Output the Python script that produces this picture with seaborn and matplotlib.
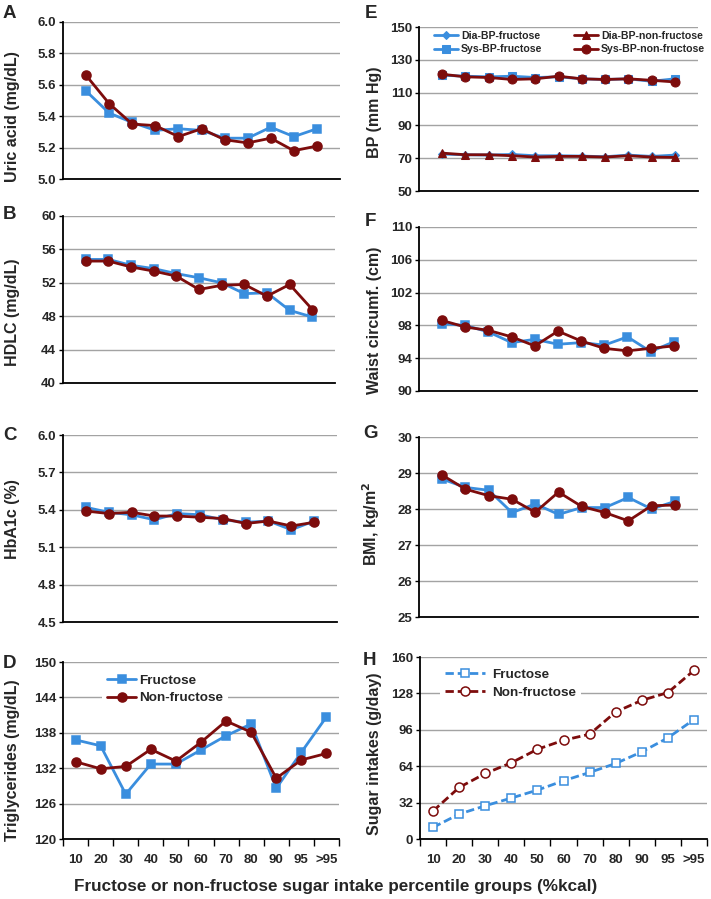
import numpy as np
import seaborn as sns
import matplotlib.pyplot as plt

# percentile groups on the shared x axis
groups = ['10', '20', '30', '40', '50', '60', '70', '80', '90', '95', '>95']

uric_fru = [5.56, 5.42, 5.36, 5.31, 5.32, 5.31, 5.26, 5.26, 5.33, 5.27, 5.32]
uric_non = [5.66, 5.48, 5.35, 5.34, 5.27, 5.32, 5.25, 5.23, 5.26, 5.18, 5.21]
hdlc_fru = [54.8, 54.8, 54.1, 53.7, 53.1, 52.6, 52.0, 50.7, 50.8, 48.7, 47.9]
hdlc_non = [54.6, 54.6, 53.9, 53.4, 52.8, 51.2, 51.7, 51.8, 50.4, 51.8, 48.8]
hba1c_fru = [5.42, 5.38, 5.36, 5.32, 5.37, 5.36, 5.32, 5.30, 5.31, 5.24, 5.31]
hba1c_non = [5.39, 5.37, 5.38, 5.35, 5.35, 5.34, 5.33, 5.29, 5.31, 5.27, 5.30]
tg_fru = [136.8, 135.8, 127.6, 132.7, 132.7, 135.1, 137.5, 139.5, 128.6, 134.7, 140.7]
tg_non = [133.1, 131.9, 132.3, 135.2, 133.2, 136.4, 140.0, 138.1, 130.3, 133.4, 134.5]
dia_fru = [72.5, 72.1, 71.9, 72.3, 71.5, 71.5, 71.3, 70.9, 71.9, 71.1, 71.9]
dia_non = [73.1, 72.1, 72.1, 71.5, 70.7, 71.1, 71.1, 70.7, 71.5, 70.7, 70.5]
sys_fru = [120.6, 120.0, 119.6, 120.0, 119.2, 119.6, 118.4, 118.0, 118.4, 116.9, 118.4]
sys_non = [121.2, 119.6, 119.2, 118.0, 118.4, 120.0, 118.4, 118.0, 118.4, 117.5, 116.5]
waist_fru = [98.2, 98.0, 97.2, 95.9, 96.3, 95.7, 95.9, 95.6, 96.6, 94.8, 96.0]
waist_non = [98.6, 97.8, 97.4, 96.6, 95.5, 97.3, 96.1, 95.2, 94.9, 95.2, 95.5]
bmi_fru = [28.83, 28.60, 28.52, 27.90, 28.14, 27.85, 28.04, 28.04, 28.32, 28.00, 28.21]
bmi_non = [28.94, 28.55, 28.37, 28.27, 27.91, 28.47, 28.07, 27.90, 27.67, 28.09, 28.11]
sugar_fru = [10.2, 21.9, 29.2, 36.0, 43.0, 51.2, 58.5, 66.4, 76.6, 88.9, 105.0]
sugar_non = [24.6, 45.3, 57.6, 67.0, 78.9, 86.8, 92.1, 111.7, 121.9, 128.7, 148.2]

BLUE = '#3a8ede'
RED = '#7d0c0c'
W, H = 711, 899

sns.set_style('white')
plt.rcParams['font.family'] = ['Liberation Sans', 'DejaVu Sans']
plt.rcParams['font.weight'] = 'bold'
plt.rcParams['mathtext.default'] = 'bf'

fig = plt.figure(figsize=(W / 100, H / 100), dpi=100)


def box(l, t, r, b):
    return [l / W, 1 - b / H, (r - l) / W, (b - t) / H]


def px(x, y):
    return x / W, 1 - y / H


pos = np.arange(len(groups))


def setup(ax, ylim, step, fmt, ylabel, lab_xy, rect, bottom=False):
    l, t, r, b = rect
    ticks = np.arange(ylim[0], ylim[1] + step / 2, step)
    ax.set_ylim(*ylim)
    ax.set_yticks(ticks)
    ax.set_yticklabels([fmt % v for v in ticks], fontsize=9.5, fontweight='bold')
    ax.yaxis.grid(True, color='#a3a3a3', lw=1)
    ax.set_axisbelow(True)
    for s in ['top', 'right']:
        ax.spines[s].set_visible(False)
    for s in ['left', 'bottom']:
        ax.spines[s].set_color('black')
        ax.spines[s].set_linewidth(1.3)
    ax.tick_params(axis='y', length=3, width=1, color='black', pad=2, left=True)
    if bottom:
        ax.set_xlim(-0.5, len(groups) - 0.5)
        ax.set_xticks(pos)
        ax.set_xticklabels(groups, fontsize=9.5, fontweight='bold')
        ax.set_xticks(np.arange(-0.5, len(groups)), minor=True)
        ax.tick_params(axis='x', which='major', length=0, pad=11)
        ax.tick_params(axis='x', which='minor', length=5, width=1, color='black', bottom=True)
    else:
        ax.set_xlim(-1, len(groups))
        ax.set_xticks([])
    ax.set_xlabel('')
    ax.set_ylabel(ylabel, fontsize=11.5, fontweight='bold')
    lx, ly = lab_xy
    ax.yaxis.set_label_coords((lx - l) / (r - l), (b - ly) / (b - t))


def pair(ax, fru, non, dashed=False, labels=None):
    ls = (0, (3, 1.4)) if dashed else '-'
    fc_b = 'white' if dashed else BLUE
    fc_r = 'white' if dashed else RED
    sns.lineplot(x=pos, y=fru, ax=ax, color=BLUE, lw=2.0, linestyle=ls, marker='s',
                 markersize=6, markerfacecolor=fc_b, markeredgecolor=BLUE, markeredgewidth=1.1,
                 label=labels[0] if labels else None, legend=False)
    sns.lineplot(x=pos, y=non, ax=ax, color=RED, lw=2.0, linestyle=ls, marker='o',
                 markersize=6.5, markerfacecolor=fc_r, markeredgecolor=RED, markeredgewidth=1.1,
                 label=labels[1] if labels else None, legend=False)


# left column
rA = (63, 22, 340, 179)
axA = fig.add_axes(box(*rA))
pair(axA, uric_fru, uric_non)
setup(axA, (5.0, 6.0), 0.2, '%.1f', 'Uric acid (mg/dL)', (20, 117), rA)

rB = (63, 216, 335, 383)
axB = fig.add_axes(box(*rB))
pair(axB, hdlc_fru, hdlc_non)
setup(axB, (40, 60), 4, '%d', 'HDLC (mg/dL)', (20, 312), rB)

rC = (63, 435, 337, 622)
axC = fig.add_axes(box(*rC))
pair(axC, hba1c_fru, hba1c_non)
setup(axC, (4.5, 6.0), 0.3, '%.1f', 'HbA1c (%)', (20, 519), rC)

rD = (63, 662, 339, 839)
axD = fig.add_axes(box(*rD))
pair(axD, tg_fru, tg_non, labels=['Fructose', 'Non-fructose'])
setup(axD, (120, 150), 6, '%d', 'Triglycerides (mg/dL)', (20, 760), rD, bottom=True)
axD.legend(loc='upper left', bbox_to_anchor=px(102, 670), bbox_transform=fig.transFigure,
           borderaxespad=0, borderpad=0.35, frameon=True, facecolor='white', edgecolor='none',
           framealpha=1, fancybox=False, handlelength=2.2, handletextpad=0.2,
           labelspacing=0.35, prop={'size': 9.7, 'weight': 'bold'})

# right column
rE = (419, 27, 698, 191)
axE = fig.add_axes(box(*rE))
sns.lineplot(x=pos, y=dia_fru, ax=axE, color=BLUE, lw=2.0, marker='D', markersize=4,
             markeredgecolor=BLUE, label='Dia-BP-fructose', legend=False)
sns.lineplot(x=pos, y=sys_fru, ax=axE, color=BLUE, lw=2.0, marker='s', markersize=6,
             markeredgecolor=BLUE, label='Sys-BP-fructose', legend=False)
sns.lineplot(x=pos, y=dia_non, ax=axE, color=RED, lw=2.0, marker='^', markersize=6,
             markeredgecolor=RED, label='Dia-BP-non-fructose', legend=False)
sns.lineplot(x=pos, y=sys_non, ax=axE, color=RED, lw=2.0, marker='o', markersize=6.5,
             markeredgecolor=RED, label='Sys-BP-non-fructose', legend=False)
setup(axE, (50, 150), 20, '%d', 'BP (mm Hg)', (382, 112), rE)
axE.legend(loc='upper left', bbox_to_anchor=px(431, 28), bbox_transform=fig.transFigure,
           ncol=2, borderaxespad=0, borderpad=0.3, frameon=False, handlelength=2.3,
           handletextpad=0.25, columnspacing=3.0, labelspacing=0.3,
           prop={'size': 7.6, 'weight': 'bold'})

rF = (419, 227, 697, 391)
axF = fig.add_axes(box(*rF))
pair(axF, waist_fru, waist_non)
setup(axF, (90, 110), 4, '%d', 'Waist circumf. (cm)', (382, 320), rF)

rG = (419, 437, 698, 617)
axG = fig.add_axes(box(*rG))
pair(axG, bmi_fru, bmi_non)
setup(axG, (25, 30), 1, '%d', 'BMI, kg/m$^2$', (382, 524), rG)

rH = (420, 657, 707, 839)
axH = fig.add_axes(box(*rH))
pair(axH, sugar_fru, sugar_non, dashed=True, labels=['Fructose', 'Non-fructose'])
setup(axH, (0, 160), 32, '%d', 'Sugar intakes (g/day)', (382, 754), rH, bottom=True)
axH.legend(loc='upper left', bbox_to_anchor=px(440, 664), bbox_transform=fig.transFigure,
           borderaxespad=0, borderpad=0.35, frameon=True, facecolor='white', edgecolor='none',
           framealpha=1, fancybox=False, handlelength=3.0, handletextpad=0.5,
           labelspacing=0.4, prop={'size': 9.7, 'weight': 'bold'})

# panel letters
for letter, (x, y) in zip('ABCDEFGH', [(3, 18), (3, 219), (3, 440), (3, 668),
                                       (365, 18), (365, 226), (363, 438), (363, 665)]):
    fig.text(*px(x, y), letter, fontsize=13.5, fontweight='bold', va='baseline', ha='left')

fig.text(*px(336, 891), 'Fructose or non-fructose sugar intake percentile groups (%kcal)',
         fontsize=12.3, fontweight='bold', ha='center', va='baseline')

fig.savefig('out.png', dpi=100)
